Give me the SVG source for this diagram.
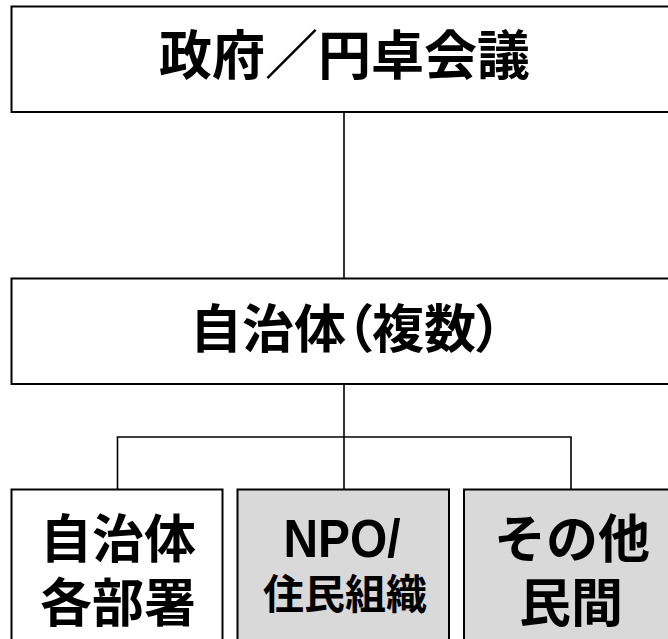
<svg xmlns="http://www.w3.org/2000/svg" width="668" height="639" viewBox="0 0 668 639">
<style>
.box{stroke:#000;stroke-width:2}
.w{fill:#fff}
.g{fill:#d9d9d9}
.t{font-family:"Noto Sans CJK JP","Noto Sans CJK SC",sans-serif;font-weight:bold;fill:#000;text-anchor:middle}
.lat{font-family:"Liberation Sans",Arial,sans-serif;font-weight:bold;fill:#000;text-anchor:middle}
.conn{stroke:#000;stroke-width:1.6;fill:none}
</style>
<rect x="0" y="0" width="668" height="639" fill="#fff"/>
<g id="connectors">
<line class="conn" x1="344" y1="112" x2="344" y2="278"/>
<line class="conn" x1="344" y1="384" x2="344" y2="490"/>
<polyline class="conn" points="117.5,490 117.5,437 571,437 571,490"/>
</g>
<g id="node-government">
<rect class="box w" x="11.5" y="6.5" width="690" height="105.5"/>
<text class="t" x="344.5" y="75" font-size="53">政府／円卓会議</text>
</g>
<g id="node-municipalities">
<rect class="box w" x="11.5" y="278.5" width="690" height="105.5"/>
<text class="t" x="346" y="348" font-size="52" style="font-feature-settings:'palt'">自治体（複数）</text>
</g>
<g id="node-departments">
<rect class="box w" x="11.5" y="489.5" width="211" height="170"/>
<text class="t" x="118" y="558" font-size="52">自治体</text>
<text class="t" x="118" y="622" font-size="52">各部署</text>
</g>
<g id="node-npo">
<rect class="box g" x="237.5" y="489.5" width="211.5" height="170"/>
<text class="lat" x="342" y="557" font-size="53" textLength="117" lengthAdjust="spacingAndGlyphs">NPO/</text>
<text class="t" x="345" y="609" font-size="41">住民組織</text>
</g>
<g id="node-private">
<rect class="box g" x="464" y="489.5" width="211" height="170"/>
<text class="t" x="572" y="558" font-size="52">その他</text>
<text class="t" x="571" y="622" font-size="52">民間</text>
</g>
</svg>
